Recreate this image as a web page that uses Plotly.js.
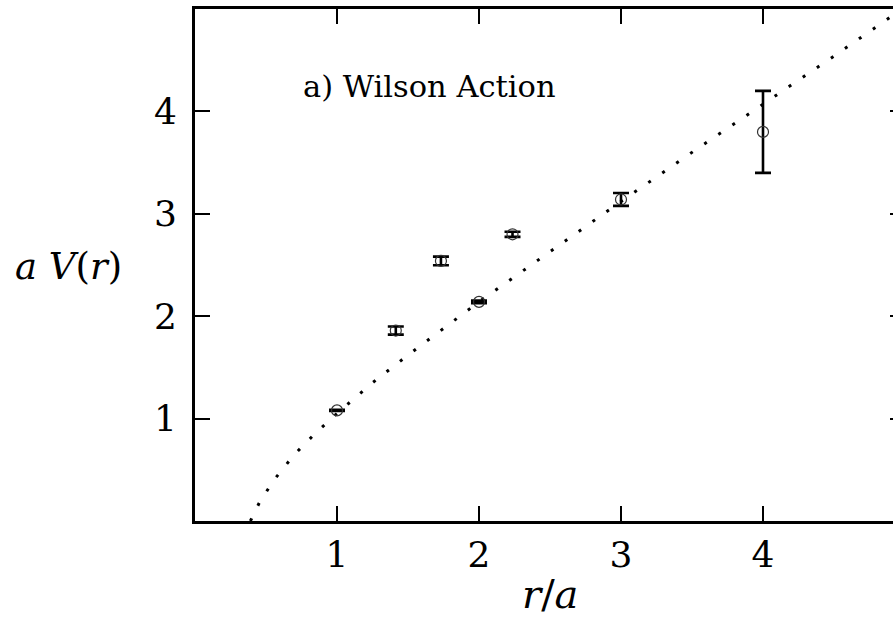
<!DOCTYPE html>
<html>
<head>
<meta charset="utf-8">
<script src="https://cdn.plot.ly/plotly-3.0.1.min.js"></script>
<style>
  html, body { margin: 0; padding: 0; overflow: hidden; background: #ffffff; }
  #chart { width: 910px; height: 621px; }
</style>
</head>
<body>
<div id="chart"></div>
<script>
// Static quark potential measured at on- and off-axis separations
const separation   = [1.0, 1.414, 1.732, 2.0, 2.236, 3.0, 4.0];
const potential    = [1.08, 1.86, 2.54, 2.14, 2.80, 3.14, 3.80];
const potentialErr = [0.005, 0.04, 0.042, 0.012, 0.025, 0.063, 0.40];

// Fitted curve (dotted), sampled along r/a
const fitR = [0.39, 0.45, 0.55, 0.70, 0.85, 1.00, 1.25, 1.50, 1.75, 2.00, 2.50, 3.00, 3.50, 4.00, 4.50, 5.00];
const fitV = [0.00, 0.17, 0.39, 0.65, 0.86, 1.05, 1.35, 1.62, 1.88, 2.14, 2.63, 3.12, 3.60, 4.07, 4.54, 5.02];

const xTickVals = [1, 2, 3, 4];
const yTickVals = [1, 2, 3, 4];

const serif = "DejaVu Serif";

const traces = [
  {
    x: fitR, y: fitV,
    type: "scatter", mode: "lines",
    line: { color: "#000000", width: 3, dash: "3px,14px" },
    hoverinfo: "skip", showlegend: false
  },
  {
    x: separation, y: potential,
    type: "scatter", mode: "markers",
    marker: { symbol: "circle-open", size: 11, color: "#333333", line: { width: 1.2, color: "#333333" } },
    error_y: { type: "data", array: potentialErr, visible: true, color: "#000000", thickness: 2.6, width: 8 },
    showlegend: false
  }
];

const axisCommon = {
  showgrid: false, zeroline: false,
  showline: true, linecolor: "#000000", linewidth: 3,
  mirror: "ticks",
  ticks: "inside", ticklen: 15, tickwidth: 2, tickcolor: "#000000",
  tickmode: "array",
  tickfont: { family: serif, size: 36, color: "#000000" }
};

const layout = {
  width: 910, height: 621,
  margin: { l: 195, r: 5, t: 9, b: 100 },
  paper_bgcolor: "#ffffff", plot_bgcolor: "#ffffff",
  font: { family: serif, color: "#000000" },
  xaxis: Object.assign({}, axisCommon, {
    range: [0, 5], tickvals: xTickVals, ticktext: xTickVals.map(String),
    ticklabelstandoff: 0
  }),
  yaxis: Object.assign({}, axisCommon, {
    range: [0, 5], tickvals: yTickVals, ticktext: yTickVals.map(String),
    ticklabelstandoff: 8
  }),
  annotations: [
    {
      text: "a) Wilson Action", xref: "paper", yref: "paper",
      x: 0.1493, y: 0.8496, xanchor: "left", yanchor: "middle",
      showarrow: false, font: { family: serif, size: 30.5, color: "#000000" }
    },
    {
      text: "<i>r</i>/<i>a</i>", xref: "paper", yref: "paper",
      x: 0.5, y: -0.1426, xanchor: "center", yanchor: "middle",
      showarrow: false, font: { family: serif, size: 40, color: "#000000" }
    },
    {
      text: "<i>a V</i>(<i>r</i>)", xref: "paper", yref: "paper",
      x: -0.1775, y: 0.498, xanchor: "center", yanchor: "middle",
      showarrow: false, font: { family: serif, size: 37, color: "#000000" }
    }
  ]
};

Plotly.newPlot("chart", traces, layout, { displayModeBar: false, staticPlot: true });
</script>
</body>
</html>
